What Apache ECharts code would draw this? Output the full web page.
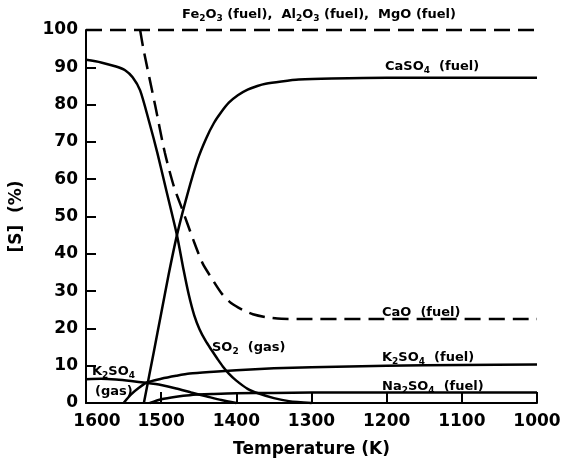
<!DOCTYPE html>
<html>
<head>
<meta charset="utf-8">
<script src="https://cdn.jsdelivr.net/npm/echarts@6/dist/echarts.min.js"></script>
<style>html,body{margin:0;padding:0;background:#fff}#c{width:568px;height:463px}</style>
</head>
<body>
<div id="c"></div>
<script>
// Temperature (K) and [S] (%) values
const xTicks = [1600, 1500, 1400, 1300, 1200, 1100, 1000];

const oxideT = [1600, 1000];
const oxidePct = [100, 100];

const caoT = [1528, 1523.5, 1508, 1495, 1483, 1473, 1457, 1445, 1433, 1420, 1407, 1390, 1378, 1360, 1340, 1300, 1000];
const caoPct = [100, 94.8, 79.8, 67, 58, 52.5, 43.6, 37.5, 33.5, 29.5, 26.8, 24.8, 23.8, 23, 22.6, 22.5, 22.5];

const so2T = [1600, 1580, 1560, 1548, 1538, 1528, 1516, 1505, 1494, 1479, 1470, 1463, 1456, 1449, 1441, 1433, 1425, 1418, 1410, 1400, 1385, 1371, 1350, 1330, 1300];
const so2Pct = [92, 91.3, 90.2, 89.2, 87.3, 83.8, 75.4, 67, 57.7, 45, 35.5, 28.8, 23.5, 19.8, 16.7, 14.2, 11.8, 9.8, 7.9, 6, 3.8, 2.6, 1.3, 0.5, 0];

const caso4T = [1523, 1510, 1500, 1490, 1479, 1465, 1451, 1440, 1430, 1420, 1410, 1398, 1385, 1372, 1361, 1340, 1317, 1273, 1200, 1000];
const caso4Pct = [0, 13.5, 24, 34.5, 45, 56, 65.5, 71, 75, 78, 80.5, 82.5, 84, 85, 85.6, 86.2, 86.7, 87, 87.2, 87.2];

const k2so4GasT = [1600, 1580, 1560, 1540, 1520, 1500, 1480, 1460, 1440, 1420, 1400];
const k2so4GasPct = [6.4, 6.5, 6.3, 5.9, 5.4, 4.8, 3.9, 2.8, 1.8, 0.8, 0];

const k2so4FuelT = [1550, 1540, 1530, 1519, 1500, 1480, 1462, 1430, 1400, 1350, 1300, 1200, 1100, 1000];
const k2so4FuelPct = [0, 2.3, 4, 5.5, 6.5, 7.3, 7.9, 8.4, 8.8, 9.3, 9.6, 10, 10.2, 10.3];

const na2so4FuelT = [1515, 1500, 1480, 1462, 1430, 1400, 1350, 1300, 1000];
const na2so4FuelPct = [0, 1, 1.7, 2.1, 2.4, 2.6, 2.7, 2.8, 2.8];

const zip = (a, b) => a.map((v, i) => [v, b[i]]);

const FONT = '"DejaVu Sans", sans-serif';
const richStyle = {
  n: { fontSize: 13, fontFamily: FONT, fontWeight: 'bold', fill: '#000', lineHeight: 16, verticalAlign: 'middle' },
  s: { fontSize: 9, fontFamily: FONT, fontWeight: 'bold', fill: '#000', lineHeight: 16, verticalAlign: 'bottom', padding: [5, 0, 0, 0] }
};
function note(x, y, text, align) {
  return { type: 'text', x: x, y: y, z: 10,
    style: { text: text, rich: richStyle, fill: '#000', verticalAlign: 'middle', align: align || 'left' } };
}

function lineSeries(name, data, dashed, smooth) {
  return {
    name: name, type: 'line', data: data, showSymbol: false, symbol: 'none',
    smooth: smooth, clip: false,
    lineStyle: { color: '#000', width: 2.5, type: dashed ? [16, 8] : 'solid' },
    animation: false
  };
}

const chart = echarts.init(document.getElementById('c'), null, { renderer: 'canvas' });
chart.setOption({
  backgroundColor: '#fff',
  animation: false,
  grid: { left: 82, right: 31, top: 30, bottom: 55, containLabel: false },
  xAxis: {
    type: 'value', inverse: true, min: xTicks[xTicks.length - 1], max: xTicks[0], interval: 100,
    name: 'Temperature (K)', nameLocation: 'middle', nameGap: 38,
    nameTextStyle: { fontFamily: FONT, fontSize: 17, fontWeight: 'bold', color: '#000' },
    axisLine: { show: true, lineStyle: { color: '#000', width: 2 } },
    axisTick: { show: true, inside: true, length: 11, lineStyle: { color: '#000', width: 2 } },
    axisLabel: {
      fontFamily: FONT, fontSize: 17, fontWeight: 'bold', color: '#000', margin: 10,
      formatter: v => v === 1600 ? '{a|' + v + '}' : String(v),
      rich: { a: { fontFamily: FONT, fontSize: 17, fontWeight: 'bold', color: '#000', padding: [0, 0, 0, 22] } }
    },
    splitLine: { show: false }
  },
  yAxis: {
    type: 'value', min: 0, max: 100, interval: 10,
    name: '[S]  (%)', nameLocation: 'middle', nameGap: 61, nameRotate: 90,
    nameTextStyle: { fontFamily: FONT, fontSize: 17, fontWeight: 'bold', color: '#000' },
    axisLine: { show: true, lineStyle: { color: '#000', width: 2 } },
    axisTick: { show: true, inside: true, length: 10, lineStyle: { color: '#000', width: 2 } },
    axisLabel: { fontFamily: FONT, fontSize: 17, fontWeight: 'bold', color: '#000', margin: 8 },
    splitLine: { show: false }
  },
  series: [
    lineSeries('Fe2O3, Al2O3, MgO (fuel)', zip(oxideT, oxidePct), true, false),
    lineSeries('CaO (fuel)', zip(caoT, caoPct), true, 0.25),
    lineSeries('SO2 (gas)', zip(so2T, so2Pct), false, 0.25),
    lineSeries('CaSO4 (fuel)', zip(caso4T, caso4Pct), false, 0.25),
    lineSeries('K2SO4 (gas)', zip(k2so4GasT, k2so4GasPct), false, 0.25),
    lineSeries('K2SO4 (fuel)', zip(k2so4FuelT, k2so4FuelPct), false, 0.25),
    lineSeries('Na2SO4 (fuel)', zip(na2so4FuelT, na2so4FuelPct), false, 0.25)
  ],
  graphic: [
    note(319, 15, '{n|Fe}{s|2}{n|O}{s|3}{n| (fuel),  Al}{s|2}{n|O}{s|3}{n| (fuel),  MgO (fuel)}', 'center'),
    note(385, 67, '{n|CaSO}{s|4}{n|  (fuel)}'),
    note(382, 313, '{n|CaO  (fuel)}'),
    note(382, 358, '{n|K}{s|2}{n|SO}{s|4}{n|  (fuel)}'),
    note(382, 387, '{n|Na}{s|2}{n|SO}{s|4}{n|  (fuel)}'),
    note(212, 348, '{n|SO}{s|2}{n|  (gas)}'),
    note(92, 372, '{n|K}{s|2}{n|SO}{s|4}'),
    note(95, 392, '{n|(gas)}')
  ]
});
</script>
</body>
</html>
